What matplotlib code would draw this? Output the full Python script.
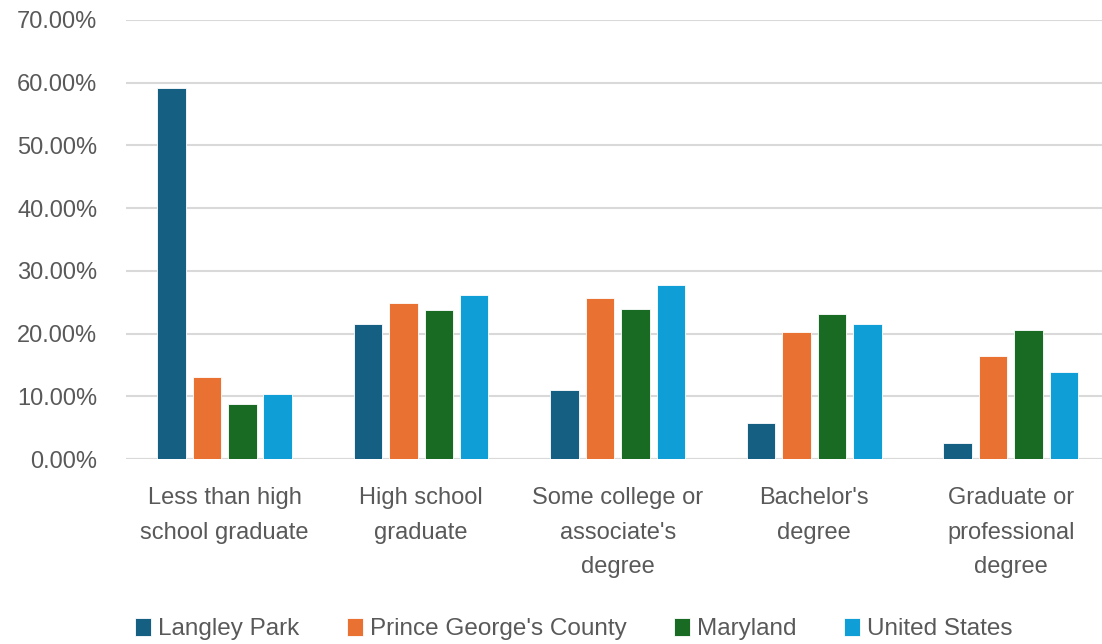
import numpy as np
import matplotlib
matplotlib.use("Agg")
import matplotlib.pyplot as plt
from matplotlib.ticker import FuncFormatter, MultipleLocator

# Educational attainment shares
categories = [
    "Less than high\nschool graduate",
    "High school\ngraduate",
    "Some college or\nassociate's\ndegree",
    "Bachelor's\ndegree",
    "Graduate or\nprofessional\ndegree",
]
langley_park = [59.1, 21.6, 11.0, 5.7, 2.5]
prince_georges = [13.1, 24.8, 25.6, 20.3, 16.4]
maryland = [8.7, 23.7, 23.9, 23.2, 20.5]
united_states = [10.4, 26.2, 27.8, 21.5, 13.9]

series_names = ["Langley Park", "Prince George's County", "Maryland", "United States"]
series_values = [langley_park, prince_georges, maryland, united_states]
colors = ["#156082", "#E97132", "#196B24", "#0F9ED5"]

plt.rcParams["font.family"] = ["Liberation Sans", "DejaVu Sans"]
text_color = "#595959"
grid_color = "#D9D9D9"

fig = plt.figure(figsize=(11.02, 6.44), dpi=100)
# axes in pixel terms: x 126..1109, y 20..459 (of 644)
W, H = 1102, 644
ax = fig.add_axes([126.4 / W, 1 - 459 / H, (1102 - 126.4) / W, (459 - 20) / H])

x = np.arange(len(categories))
width = 0.145
step = 0.18
for i, (name, vals, c) in enumerate(zip(series_names, series_values, colors)):
    ax.bar(x + (i - 1.5) * step, np.array(vals) / 100, width, color=c,
           edgecolor="white", linewidth=0.6, label=name, zorder=3)

# plot area runs a little past the right edge of the picture
ax.set_xlim(-0.5, 4.5 - (1109 - 1102) / 196.6)
ax.set_ylim(0, 0.7)
ax.yaxis.set_major_locator(MultipleLocator(0.1))
ax.yaxis.set_major_formatter(FuncFormatter(lambda v, p: f"{v * 100:.2f}%"))
ax.grid(axis="y", color=grid_color, linewidth=1.5, zorder=0)
ax.set_axisbelow(True)
for s in ax.spines.values():
    s.set_visible(False)

ax.set_xticks(x)
ax.set_xticklabels(categories, fontsize=17, color=text_color, linespacing=1.75)
ax.tick_params(axis="x", length=0, pad=20)
ax.tick_params(axis="y", length=0, pad=21, labelsize=17, labelcolor=text_color)
ax.axhline(0, color=grid_color, linewidth=1.5, zorder=2)

leg = fig.legend(loc="center", bbox_to_anchor=(574 / W, 1 - 629 / H), ncol=4,
                 frameon=False, fontsize=17.5, handlelength=0.65, handleheight=0.75,
                 handletextpad=0.3, columnspacing=1.95, labelcolor=text_color)

fig.savefig("out.png", dpi=100)
